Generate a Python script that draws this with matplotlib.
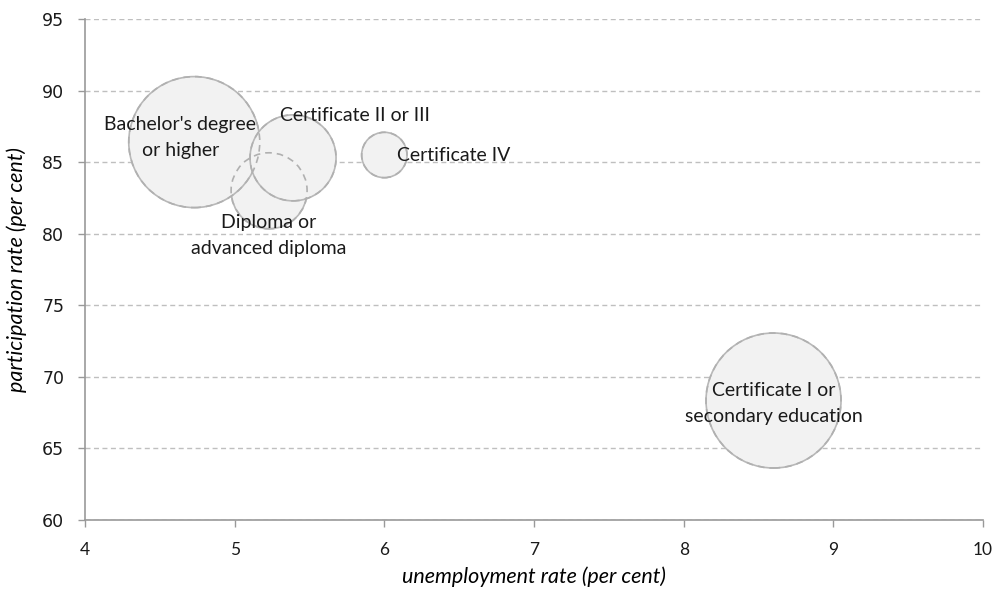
import numpy as np
import matplotlib.pyplot as plt

# data (drawing order: lower bubbles first)
names = ["Diploma or\nadvanced diploma", "Bachelor's degree\nor higher",
         "Certificate II or III", "Certificate IV",
         "Certificate I or\nsecondary education"]
unemp = [5.23, 4.73, 5.39, 6.0, 8.6]
partic = [83.0, 86.4, 85.3, 85.5, 68.35]
bubble = [1444, 4290, 1849, 515, 4556]   # relative bubble size (area)

# label offsets from bubble centre, pixels
offsets = [(0, -45, "center"), (-14, 5, "center"), (62, 42, "center"),
           (13, -1, "left"), (0, -3, "center")]

plt.rcParams['font.family'] = ['Lato', 'DejaVu Sans']

fig = plt.figure(figsize=(9.94, 5.93), dpi=100)
ax = fig.add_axes([0.0855, 0.123, 0.9035, 0.845])

max_r = 67.5  # pixels for the largest bubble
r_px = max_r * np.sqrt(np.array(bubble) / max(bubble))
s = (2 * r_px * 72 / 100) ** 2

ax.scatter(unemp, partic, s=s, facecolor="#f2f2f2", edgecolor="#b8b8b8",
           linewidth=1.2, zorder=3)
# hidden outlines show through as dashes
ax.scatter(unemp, partic, s=s, facecolor="none", edgecolor="#b0b0b0",
           linewidth=1.2, linestyle=(0, (4, 3)), zorder=4)

for name, x, y, (dx, dy, ha) in zip(names, unemp, partic, offsets):
    ax.annotate(name, (x, y), xytext=(dx, dy), textcoords="offset pixels",
                ha=ha, va="center", fontsize=14, color="#1a1a1a",
                linespacing=1.65, zorder=5)

ax.set_xlim(4, 10)
ax.set_ylim(60, 95)
ax.set_xticks(range(4, 11))
ax.set_yticks(range(60, 96, 5))
ax.yaxis.grid(True, color="#bfbfbf", linestyle=(0, (3.6, 2.5)), linewidth=1)
ax.set_axisbelow(True)
for sp in ["top", "right"]:
    ax.spines[sp].set_visible(False)
for sp in ["left", "bottom"]:
    ax.spines[sp].set_color("#999999")
    ax.spines[sp].set_linewidth(1.2)
ax.tick_params(colors="#999999", labelcolor="#1a1a1a", length=5, width=1)
ax.tick_params(axis="x", labelsize=12.5, pad=11)
ax.tick_params(axis="y", pad=10)
for lab in ax.get_yticklabels():
    lab.set_fontfamily("DejaVu Sans")
    lab.set_fontsize(12.5)
ax.set_xlabel("unemployment rate (per cent)", style="italic", fontsize=15.5,
              labelpad=6)
ax.set_ylabel("participation rate (per cent)", style="italic", fontsize=15.5,
              labelpad=11)

fig.savefig("out.png", dpi=100)
